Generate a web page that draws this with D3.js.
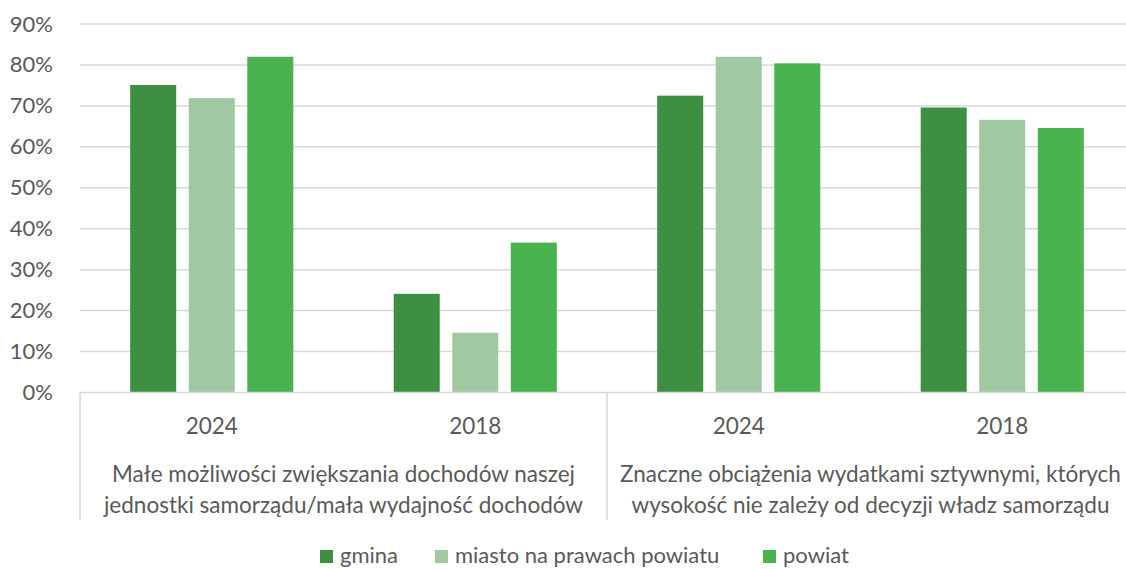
<!DOCTYPE html>
<html><head><meta charset="utf-8">
<script src="https://cdn.jsdelivr.net/npm/d3@7"></script>
<style>
html,body{margin:0;padding:0;background:#fff;overflow:hidden}
text{font-family:Lato,"Noto Sans",sans-serif;fill:#595959}
</style></head>
<body><svg id="c" width="1126" height="569"></svg>
<script>
const categories = ["2024 A","2018 A","2024 B","2018 B"];
const yearLabels = ["2024","2018","2024","2018"];
const groupLabels = [
  ["Małe możliwości zwiększania dochodów naszej","jednostki samorządu/mała wydajność dochodów"],
  ["Znaczne obciążenia wydatkami sztywnymi, których","wysokość nie zależy od decyzji władz samorządu"]
];
const seriesNames = ["gmina","miasto na prawach powiatu","powiat"];
const seriesColors = ["#3f8f42","#a0c9a3","#4ab24f"];
const gmina  = [0.751, 0.241, 0.725, 0.696];
const miasto = [0.719, 0.146, 0.820, 0.666];
const powiat = [0.820, 0.366, 0.804, 0.646];
const yTicks = [0,0.1,0.2,0.3,0.4,0.5,0.6,0.7,0.8,0.9];

(function(){
const values = [gmina, miasto, powiat];
const svg = d3.select("#c");
const pl = 80, pr = 1134, pt = 24, pb = 392.5;
const fs = "22.5px";

const y = d3.scaleLinear().domain([0,0.9]).range([pb, pt]);
const x0 = d3.scaleBand().domain(categories).range([pl, pr]);
const groupW = x0.bandwidth()*0.619;
const x1 = d3.scaleBand().domain(seriesNames).range([0, groupW]).paddingInner(0.214);
const off = (x0.bandwidth()-groupW)/2;

svg.append("g").selectAll("line").data(yTicks.slice(1)).join("line")
  .attr("x1", pl).attr("x2", 1126)
  .attr("y1", d=>y(d)).attr("y2", d=>y(d))
  .attr("stroke","#d9d9d9").attr("stroke-width",1.5);

const yAxis = d3.axisLeft(y).tickValues(yTicks).tickFormat(d3.format(".0%")).tickSize(0).tickPadding(0);
const ya = svg.append("g").attr("transform","translate(53,0)").call(yAxis);
ya.select(".domain").remove();
ya.selectAll("text").style("font-size","22px").style("font-family","Lato").attr("fill","#595959");

const bars = [];
categories.forEach((c,i)=>seriesNames.forEach((s,j)=>bars.push({c,s,v:values[j][i],col:seriesColors[j]})));
svg.append("g").selectAll("rect").data(bars).join("rect")
  .attr("x", d=>x0(d.c)+off+x1(d.s))
  .attr("width", x1.bandwidth())
  .attr("y", d=>y(d.v))
  .attr("height", d=>pb-y(d.v))
  .attr("fill", d=>d.col);

svg.append("line").attr("x1",pl).attr("x2",1126).attr("y1",pb).attr("y2",pb)
  .attr("stroke","#d9d9d9").attr("stroke-width",1.5);

const seps = [x0(categories[0]), x0(categories[2]), pr];
svg.append("g").selectAll("line").data(seps).join("line")
  .attr("x1", d=>d).attr("x2", d=>d).attr("y1", pb).attr("y2", 520)
  .attr("stroke","#d9d9d9").attr("stroke-width",1.5);

svg.append("g").selectAll("text").data(categories).join("text")
  .attr("x", (d)=>x0(d)+x0.bandwidth()/2).attr("y", 434)
  .attr("text-anchor","middle").style("font-size",fs)
  .text((d,i)=>yearLabels[i]);

groupLabels.forEach((lines,g)=>{
  const cx = x0(categories[g*2]) + x0.bandwidth();
  lines.forEach((t,k)=>{
    svg.append("text").attr("x", cx).attr("y", 482 + k*31)
      .attr("text-anchor","middle").style("font-size",fs).text(t);
  });
});

const legX = [320, 435, 763];
const lg = svg.append("g").selectAll("g").data(seriesNames).join("g")
  .attr("transform",(d,i)=>`translate(${legX[i]},0)`);
lg.append("rect").attr("x",0).attr("y",550).attr("width",13).attr("height",13)
  .attr("fill",(d,i)=>seriesColors[i]);
lg.append("text").attr("x",20).attr("y",563).style("font-size","22px").text(d=>d);
})();
</script></body></html>
